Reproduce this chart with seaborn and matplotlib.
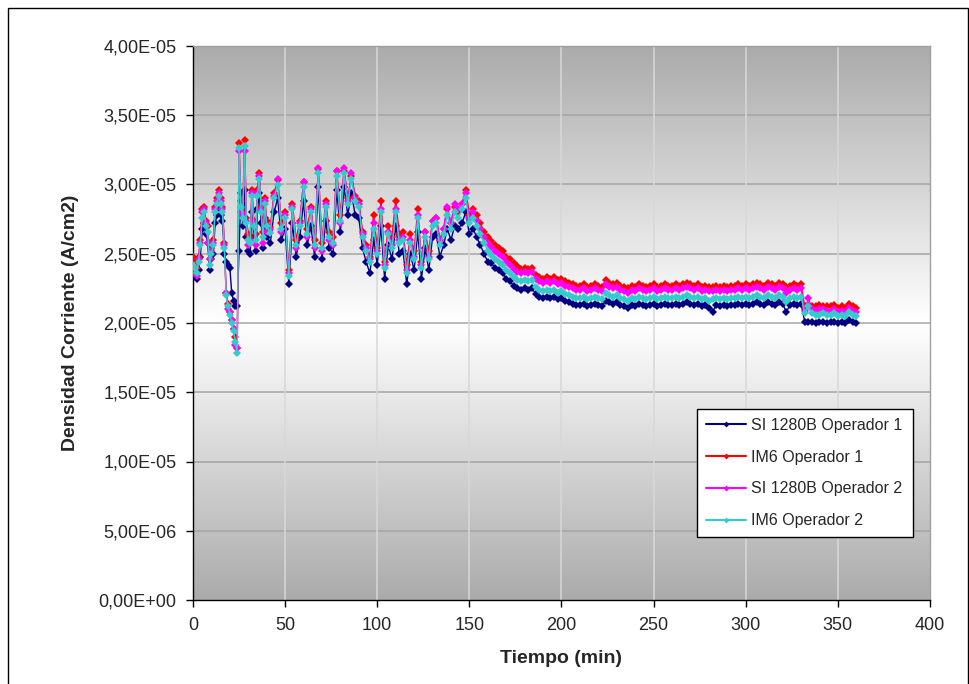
import numpy as np
import pandas as pd
import matplotlib
matplotlib.use("Agg")
import matplotlib.pyplot as plt
from matplotlib.ticker import FuncFormatter
from matplotlib.patches import Rectangle
from matplotlib.colors import LinearSegmentedColormap
import seaborn as sns

# ---------------- data (current density in units of 1e-6 A/cm2) ----------------
minutes = np.concatenate([np.arange(0, 41), np.arange(42, 361, 2)])

si_op1 = [
    23.8, 23.4, 23.2, 23.8, 24.8, 26.8, 27.2, 26.4, 25.8, 23.8, 24.6, 25.0, 27.2, 27.8, 28.4, 27.8, 27.4, 25.0, 24.4, 24.2,
    24.0, 22.2, 21.6, 21.2, 21.2, 25.2, 29.4, 27.0, 29.6, 26.2, 25.2, 25.0, 28.0, 26.2, 25.2, 28.2, 29.4, 27.2, 25.4, 27.6,
    26.2,
    25.8, 28.0, 29.0, 26.0, 26.8, 22.8, 27.2, 24.8, 26.2, 28.8,
    25.6, 27.0, 24.8, 29.8, 24.6, 27.4, 25.4, 25.0, 29.6, 26.6,
    29.8, 27.8, 29.4, 27.8, 27.6, 25.4, 24.4, 23.6, 26.0, 24.2,
    27.0, 23.2, 25.6, 24.6, 27.0, 25.0, 25.2, 22.8, 25.0, 23.8,
    26.6, 23.2, 25.4, 23.8, 26.2, 26.4, 24.8, 25.6, 26.8, 26.0,
    27.0, 26.8, 27.2, 28.0, 26.4, 26.8, 26.2, 25.6, 25.0, 24.4,
    24.3, 24.0, 23.8, 23.6, 23.2, 23.0, 22.7, 22.5, 22.4, 22.5,
    22.4, 22.5, 22.1, 21.9, 21.8, 21.9, 21.8, 21.9, 21.7, 21.8,
    21.6, 21.5, 21.4, 21.3, 21.3, 21.4, 21.2, 21.3, 21.4, 21.3,
    21.2, 21.6, 21.5, 21.4, 21.5, 21.3, 21.2, 21.1, 21.3, 21.2,
    21.4, 21.3, 21.2, 21.3, 21.4, 21.2, 21.3, 21.4, 21.3, 21.3,
    21.4, 21.3, 21.4, 21.5, 21.4, 21.3, 21.4, 21.2, 21.3, 21.1,
    20.8, 21.3, 21.2, 21.3, 21.2, 21.3, 21.3, 21.4, 21.3, 21.4,
    21.3, 21.4, 21.5, 21.4, 21.3, 21.5, 21.4, 21.3, 21.5, 21.4,
    20.8, 21.3, 21.4, 21.3, 21.4, 20.1, 20.1, 20.1, 20.0, 20.1,
    20.1, 20.0, 20.1, 20.1, 20.0, 20.1, 20.0, 20.2, 20.1, 20.0,
]

im6_op1 = [
    24.8, 24.6, 24.0, 24.8, 26.0, 28.2, 28.4, 27.4, 27.0, 24.6, 25.4, 26.0, 28.4, 29.0, 29.6, 29.0, 28.4, 25.8, 22.2, 21.4,
    20.8, 20.2, 19.6, 19.0, 18.2, 33.0, 28.8, 28.0, 33.2, 27.6, 26.4, 26.2, 29.6, 27.4, 26.4, 29.6, 30.8, 28.4, 26.6, 29.0,
    27.4,
    26.9, 29.4, 30.3, 27.2, 28.0, 23.8, 28.6, 26.0, 27.4, 30.2,
    26.8, 28.4, 26.0, 31.1, 25.8, 28.8, 26.6, 26.2, 31.0, 27.8,
    31.0, 29.0, 30.6, 29.2, 28.8, 26.6, 25.6, 24.8, 27.8, 25.4,
    28.8, 24.4, 27.0, 26.2, 28.8, 26.4, 26.6, 24.2, 26.4, 25.2,
    28.2, 24.4, 26.6, 25.2, 27.4, 27.6, 26.0, 26.8, 28.2, 27.2,
    28.4, 28.0, 28.6, 29.6, 27.8, 28.2, 27.8, 27.2, 26.6, 26.2,
    25.9, 25.6, 25.4, 25.2, 24.8, 24.6, 24.3, 24.1, 23.9, 24.0,
    23.9, 24.0, 23.5, 23.3, 23.2, 23.3, 23.2, 23.3, 23.1, 23.2,
    23.0, 22.9, 22.8, 22.7, 22.7, 22.8, 22.6, 22.7, 22.8, 22.7,
    22.6, 23.1, 22.9, 22.8, 22.9, 22.7, 22.6, 22.5, 22.7, 22.6,
    22.8, 22.7, 22.6, 22.7, 22.8, 22.6, 22.7, 22.8, 22.7, 22.7,
    22.8, 22.7, 22.8, 22.9, 22.8, 22.7, 22.8, 22.6, 22.7, 22.6,
    22.6, 22.7, 22.6, 22.7, 22.6, 22.7, 22.7, 22.8, 22.7, 22.8,
    22.7, 22.8, 22.9, 22.8, 22.7, 22.9, 22.8, 22.7, 22.9, 22.8,
    22.6, 22.7, 22.8, 22.7, 22.8, 21.2, 21.3, 21.2, 21.2, 21.3,
    21.2, 21.2, 21.2, 21.3, 21.1, 21.2, 21.1, 21.4, 21.2, 21.1,
]

si_op2 = [
    23.8, 23.6, 23.4, 24.6, 25.8, 28.0, 28.2, 27.2, 25.8, 24.6, 25.2, 25.8, 28.2, 28.8, 29.4, 28.8, 28.2, 25.6, 22.2, 21.0,
    20.8, 20.2, 19.6, 18.4, 18.2, 32.4, 28.0, 27.8, 32.4, 27.4, 25.6, 26.0, 29.4, 27.2, 25.6, 29.4, 30.6, 28.2, 25.8, 28.8,
    26.6,
    26.8, 29.2, 30.4, 26.6, 27.8, 23.6, 28.4, 25.4, 27.2, 30.2,
    26.2, 28.2, 25.4, 31.2, 25.2, 28.6, 26.0, 25.6, 31.0, 27.2,
    31.2, 28.8, 30.8, 29.0, 28.6, 26.4, 25.4, 24.6, 27.2, 25.2,
    28.2, 24.2, 26.6, 25.6, 28.2, 26.0, 26.2, 23.8, 26.0, 24.8,
    27.8, 24.2, 26.6, 24.8, 27.4, 27.6, 26.0, 26.8, 28.4, 27.2,
    28.6, 28.2, 28.6, 29.4, 27.6, 28.0, 27.4, 26.8, 26.2, 25.8,
    25.5, 25.2, 25.0, 24.8, 24.4, 24.2, 23.9, 23.7, 23.6, 23.7,
    23.6, 23.7, 23.2, 23.0, 22.9, 23.0, 22.9, 23.0, 22.8, 22.9,
    22.7, 22.6, 22.5, 22.4, 22.4, 22.5, 22.3, 22.4, 22.5, 22.4,
    22.3, 22.8, 22.6, 22.5, 22.6, 22.4, 22.3, 22.2, 22.4, 22.3,
    22.5, 22.4, 22.3, 22.4, 22.5, 22.3, 22.4, 22.5, 22.4, 22.4,
    22.5, 22.4, 22.5, 22.6, 22.5, 22.4, 22.5, 22.3, 22.4, 22.3,
    22.3, 22.4, 22.3, 22.4, 22.3, 22.4, 22.4, 22.5, 22.4, 22.5,
    22.4, 22.5, 22.6, 22.5, 22.4, 22.6, 22.5, 22.4, 22.6, 22.5,
    22.2, 22.4, 22.5, 22.4, 22.5, 20.9, 21.8, 21.0, 20.9, 21.0,
    21.0, 20.9, 20.9, 21.0, 20.8, 20.9, 20.8, 21.1, 20.9, 20.8,
]

im6_op2 = [
    24.2, 24.0, 23.6, 24.4, 25.6, 27.6, 28.0, 27.0, 26.6, 24.2, 25.0, 25.6, 28.0, 28.6, 29.2, 28.6, 28.0, 25.4, 22.0, 21.2,
    20.6, 20.0, 19.4, 18.6, 17.8, 32.6, 28.4, 27.6, 32.8, 27.2, 26.0, 25.8, 29.2, 27.0, 26.0, 29.2, 30.4, 28.0, 26.2, 28.6,
    27.0,
    26.5, 29.0, 30.0, 26.8, 27.6, 23.4, 28.2, 25.6, 27.0, 29.8,
    26.4, 28.0, 25.6, 30.8, 25.4, 28.4, 26.2, 25.8, 30.6, 27.4,
    30.8, 28.6, 30.4, 28.8, 28.4, 26.2, 25.2, 24.4, 26.8, 25.0,
    28.0, 24.0, 26.4, 25.4, 28.0, 25.8, 26.0, 23.6, 25.8, 24.6,
    27.6, 24.0, 26.2, 24.6, 27.0, 27.2, 25.6, 26.4, 27.8, 26.8,
    28.0, 27.6, 28.2, 29.0, 27.2, 27.6, 27.0, 26.4, 25.8, 25.2,
    24.9, 24.6, 24.4, 24.2, 23.8, 23.6, 23.3, 23.1, 23.0, 23.1,
    23.0, 23.1, 22.6, 22.4, 22.3, 22.4, 22.3, 22.4, 22.2, 22.3,
    22.1, 22.0, 21.9, 21.8, 21.8, 21.9, 21.7, 21.8, 21.9, 21.8,
    21.7, 22.2, 22.0, 21.9, 22.0, 21.8, 21.7, 21.6, 21.8, 21.7,
    21.9, 21.8, 21.7, 21.8, 21.9, 21.7, 21.8, 21.9, 21.8, 21.8,
    21.9, 21.8, 21.9, 22.0, 21.9, 21.8, 21.9, 21.7, 21.8, 21.6,
    21.7, 21.8, 21.7, 21.8, 21.7, 21.8, 21.8, 21.9, 21.8, 21.9,
    21.8, 21.9, 22.0, 21.9, 21.8, 22.0, 21.9, 21.8, 22.0, 21.9,
    21.5, 21.8, 21.9, 21.8, 21.9, 20.7, 21.2, 20.7, 20.6, 20.6,
    20.7, 20.6, 20.6, 20.7, 20.5, 20.6, 20.5, 20.8, 20.6, 20.5,
]

series_names = ["SI 1280B Operador 1", "IM6 Operador 1", "SI 1280B Operador 2", "IM6 Operador 2"]
series_values = [si_op1, im6_op1, si_op2, im6_op2]
series_colors = ["#000080", "#ff0000", "#ff00ff", "#33cccc"]

y_ticks = np.arange(0, 4.01e-5, 5e-6)
x_ticks = np.arange(0, 401, 50)

# ---------------- long-form table ----------------
frames = []
for name, vals in zip(series_names, series_values):
    frames.append(pd.DataFrame({"Tiempo": minutes,
                                "Densidad": np.asarray(vals) * 1e-6,
                                "Serie": name}))
df = pd.concat(frames, ignore_index=True)

# ---------------- figure ----------------
sns.set_style("ticks")
plt.rcParams["font.family"] = ["Liberation Sans", "DejaVu Sans"]

fig = plt.figure(figsize=(9.7, 6.84), dpi=100)
ax = fig.add_axes([193 / 970, 1 - 600 / 684, (930 - 193) / 970, (600 - 46) / 684])

# gradient background (gray - white - gray)
grad = np.linspace(0, 1, 400)
g = 1 - np.abs(2 * grad - 1)
cmap = LinearSegmentedColormap.from_list("gw", ["#ababab", "#ffffff"])
ax.imshow(g[:, None], extent=[0, 400, 0, 4e-5], aspect="auto", cmap=cmap,
          vmin=0, vmax=1, origin="lower", zorder=0, interpolation="bilinear")

sns.lineplot(data=df, x="Tiempo", y="Densidad", hue="Serie", hue_order=series_names,
             palette=series_colors, estimator=None, sort=False, ax=ax,
             marker="D", markersize=4.0, markeredgewidth=0, linewidth=1.0, zorder=3)

ax.set_xlim(0, 400)
ax.set_ylim(0, 4e-5)
ax.set_xticks(x_ticks)
ax.set_yticks(y_ticks)
ax.yaxis.set_major_formatter(FuncFormatter(lambda v, p: f"{v:.2E}".replace(".", ",")))
ax.xaxis.set_major_formatter(FuncFormatter(lambda v, p: f"{int(round(v))}"))

ax.set_axisbelow(True)
for yv in y_ticks[1:-1]:
    ax.axhline(yv, color="#a4a4a4", lw=1.1, zorder=1)
for xv in x_ticks[1:-1]:
    ax.axvline(xv, color="#d8d8d8", lw=1.1, zorder=1)

ax.tick_params(axis="both", labelsize=13, length=5, width=1, color="black", direction="out", pad=7)
for s in ["left", "bottom"]:
    ax.spines[s].set_color("black")
    ax.spines[s].set_linewidth(1.0)
for s in ["top", "right"]:
    ax.spines[s].set_visible(True)
    ax.spines[s].set_color("#a0a0a0")
    ax.spines[s].set_linewidth(1.0)

ax.set_xlabel("Tiempo (min)", fontsize=14, fontweight="bold", labelpad=12)
ax.set_ylabel("Densidad Corriente (A/cm2)", fontsize=14, fontweight="bold", labelpad=14)

handles, labels = ax.get_legend_handles_labels()
leg = ax.legend(handles, labels, loc="lower left",
                bbox_to_anchor=((697 - 193) / 737, (600 - 537) / 554, (913 - 697) / 737, (537 - 396) / 554),
                mode="expand", fontsize=11.5, frameon=True, fancybox=False, edgecolor="black",
                framealpha=1, handlelength=2.5, handletextpad=0.35, labelspacing=1.05,
                borderpad=0.55, borderaxespad=0)
leg.get_frame().set_linewidth(1.0)
for h in leg.legend_handles:
    h.set_markersize(3)
    h.set_linewidth(1.5)

# chart-area border
fig.patches.append(Rectangle((8 / 970, -0.01), (968 - 8) / 970, 1 - 8 / 684 + 0.01,
                             transform=fig.transFigure, fill=False, edgecolor="black", lw=1.0))

fig.savefig("out.png", dpi=100)
